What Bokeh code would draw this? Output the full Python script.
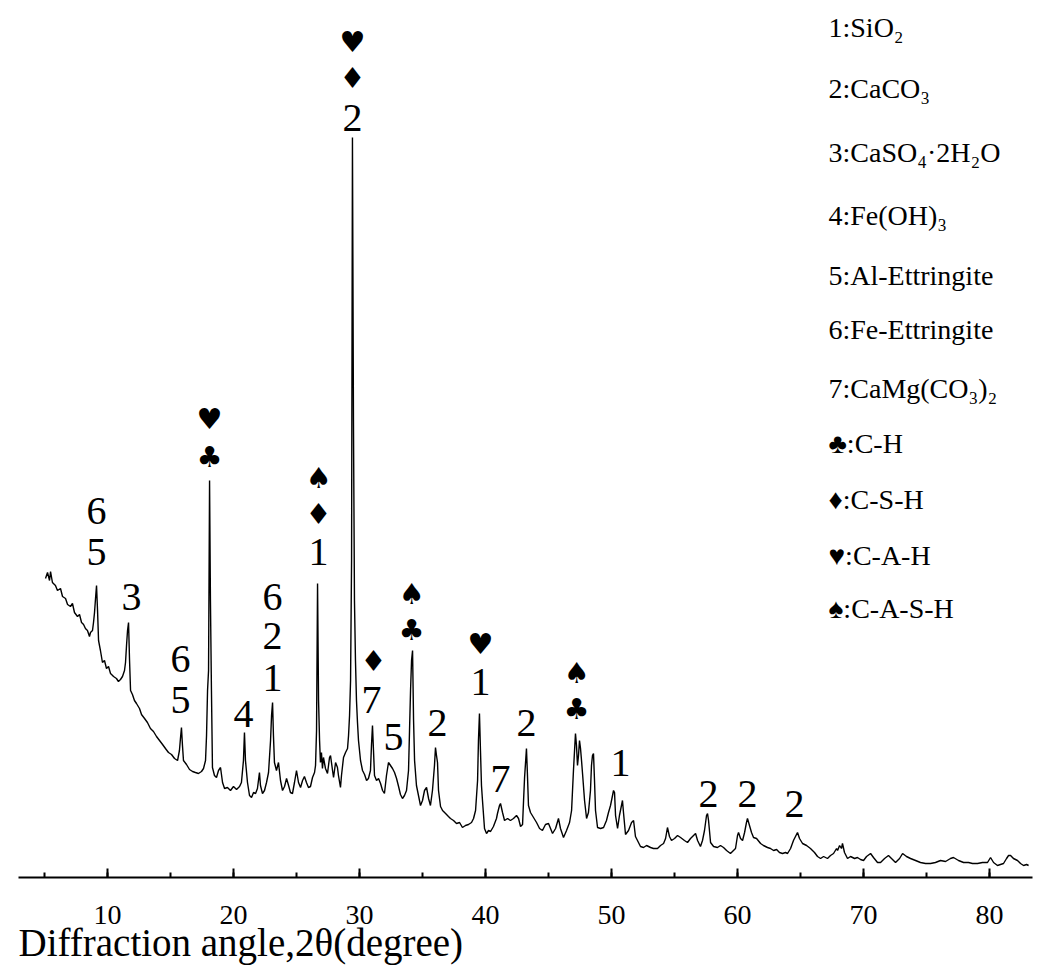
from bokeh.plotting import figure
from bokeh.models import Range1d, SingleIntervalTicker, Title
from bokeh.core.properties import value
from bokeh.embed import file_html
from bokeh.resources import INLINE

# ---- XRD pattern (2theta in degree, intensity in a.u.) ----
two_theta = [
    5.08, 5.24, 5.40, 5.48, 5.63, 5.87, 6.03, 6.27, 6.43, 6.67, 6.83, 7.06, 7.22, 7.38, 7.62, 7.78,
    7.94, 8.10, 8.25, 8.41, 8.57, 8.65, 8.81, 8.89, 8.97, 9.05, 9.13, 9.21, 9.29, 9.44, 9.60, 9.76,
    9.92, 10.08, 10.24, 10.48, 10.71, 10.87, 11.03, 11.19, 11.35, 11.43, 11.51, 11.59, 11.67, 11.75,
    11.83, 11.98, 12.14, 12.30, 12.54, 12.70, 12.94, 13.17, 13.41, 13.65, 13.89, 14.13, 14.37, 14.60,
    14.84, 15.08, 15.32, 15.56, 15.71, 15.79, 15.87, 15.95, 16.03, 16.27, 16.51, 16.75, 16.98, 17.22,
    17.46, 17.62, 17.78, 17.86, 17.94, 18.02, 18.10, 18.17, 18.25, 18.33, 18.49, 18.65, 18.81, 18.97,
    19.13, 19.29, 19.52, 19.76, 20.00, 20.24, 20.48, 20.63, 20.79, 20.87, 20.95, 21.11, 21.27, 21.43,
    21.59, 21.75, 21.90, 22.06, 22.14, 22.30, 22.46, 22.62, 22.78, 22.94, 23.02, 23.10, 23.17, 23.25,
    23.41, 23.57, 23.73, 23.89, 24.05, 24.21, 24.37, 24.52, 24.68, 24.84, 25.00, 25.16, 25.32, 25.48,
    25.63, 25.79, 25.95, 26.11, 26.27, 26.43, 26.51, 26.59, 26.67, 26.75, 26.83, 26.90, 26.98, 27.06,
    27.14, 27.30, 27.46, 27.62, 27.70, 27.86, 27.94, 28.10, 28.25, 28.33, 28.49, 28.57, 28.73, 28.89,
    29.05, 29.13, 29.21, 29.29, 29.37, 29.44, 29.52, 29.60, 29.68, 29.76, 29.84, 29.92, 30.08, 30.24,
    30.40, 30.56, 30.71, 30.87, 30.95, 31.03, 31.11, 31.19, 31.35, 31.51, 31.67, 31.83, 31.98, 32.14,
    32.30, 32.46, 32.62, 32.78, 32.94, 33.10, 33.25, 33.41, 33.57, 33.73, 33.89, 33.97, 34.05, 34.13,
    34.21, 34.29, 34.37, 34.52, 34.68, 34.84, 35.00, 35.16, 35.32, 35.48, 35.63, 35.79, 35.95, 36.03,
    36.11, 36.19, 36.27, 36.43, 36.59, 36.83, 37.06, 37.22, 37.46, 37.70, 37.94, 38.17, 38.41, 38.65,
    38.89, 39.05, 39.21, 39.37, 39.44, 39.52, 39.60, 39.68, 39.76, 39.92, 40.08, 40.24, 40.40, 40.63,
    40.87, 40.95, 41.11, 41.19, 41.35, 41.51, 41.75, 41.98, 42.22, 42.46, 42.62, 42.78, 42.94, 43.02,
    43.10, 43.25, 43.33, 43.41, 43.57, 43.81, 44.05, 44.29, 44.52, 44.76, 45.00, 45.16, 45.32, 45.56,
    45.79, 45.95, 46.19, 46.43, 46.67, 46.83, 46.98, 47.14, 47.22, 47.30, 47.38, 47.46, 47.54, 47.62,
    47.70, 47.86, 48.02, 48.17, 48.33, 48.41, 48.49, 48.57, 48.65, 48.73, 48.89, 49.13, 49.37, 49.60,
    49.76, 49.92, 50.08, 50.16, 50.24, 50.32, 50.48, 50.63, 50.79, 50.87, 50.95, 51.11, 51.35, 51.59,
    51.75, 51.90, 52.06, 52.30, 52.54, 52.78, 53.10, 53.33, 53.65, 53.89, 54.13, 54.29, 54.44, 54.60,
    54.76, 55.00, 55.24, 55.48, 55.79, 56.03, 56.27, 56.51, 56.67, 56.83, 57.06, 57.22, 57.38, 57.54,
    57.62, 57.70, 57.86, 58.10, 58.41, 58.65, 58.89, 59.13, 59.44, 59.68, 59.84, 60.00, 60.08, 60.24,
    60.40, 60.56, 60.71, 60.79, 60.95, 61.11, 61.27, 61.51, 61.83, 62.06, 62.38, 62.62, 62.86, 63.10,
    63.33, 63.57, 63.81, 63.97, 64.21, 64.44, 64.60, 64.76, 64.92, 65.16, 65.48, 65.79, 66.11, 66.35,
    66.59, 66.83, 67.14, 67.38, 67.62, 67.86, 67.94, 68.10, 68.25, 68.33, 68.49, 68.73, 68.97, 69.29,
    69.52, 69.76, 70.00, 70.24, 70.56, 70.79, 71.11, 71.35, 71.67, 71.98, 72.22, 72.54, 72.86, 73.10,
    73.41, 73.73, 74.13, 74.52, 74.92, 75.32, 75.71, 76.11, 76.51, 76.90, 77.14, 77.54, 77.94, 78.33,
    78.65, 79.05, 79.44, 79.84, 80.08, 80.32, 80.63, 80.87, 81.11, 81.35, 81.51, 81.67, 81.90, 82.22,
    82.46, 82.70, 82.94, 83.10,
]
intensity = [
    299, 305, 297, 306, 295, 292, 287, 289, 281, 279, 273, 271, 274, 265, 261, 263,
    255, 253, 249, 247, 241, 245, 247, 255, 265, 279, 292, 267, 237, 227, 215, 217,
    209, 211, 204, 201, 199, 196, 198, 201, 207, 215, 232, 247, 255, 217,
    187, 183, 177, 174, 169, 163, 159, 155, 149, 146, 141, 137, 133, 129,
    125, 123, 119, 117, 127, 139, 150, 132, 117, 113, 108, 106, 105, 104,
    106, 109, 117, 142, 187, 207, 397, 277, 187, 110, 102, 100, 107, 110,
    95, 89, 90, 87, 91, 88, 91, 95, 117, 145, 117, 95, 82, 80,
    85, 84, 89, 105, 92, 84, 87, 95, 105, 137, 162, 175, 142, 115,
    107, 115, 97, 87, 91, 99, 92, 85, 84, 95, 107, 95, 90, 97,
    101, 95, 90, 91, 100, 105, 112, 147, 294, 177, 137, 115, 125, 109,
    120, 109, 104, 120, 122, 107, 100, 115, 110, 102, 90, 102, 120, 125,
    129, 142, 162, 197, 317, 740, 457, 277, 217, 177, 155, 137, 117, 107,
    103, 97, 99, 107, 132, 152, 127, 102, 97, 99, 94, 87, 84, 102,
    115, 112, 109, 105, 99, 91, 83, 79, 82, 87, 107, 147, 187, 217,
    227, 157, 117, 92, 82, 72, 77, 87, 90, 79, 72, 87, 112, 130,
    122, 115, 87, 71, 67, 64, 61, 59, 57, 54, 55, 50, 52, 53,
    55, 59, 67, 97, 137, 164, 127, 92, 77, 49, 44, 47, 46, 51,
    59, 64, 72, 74, 65, 57, 59, 57, 59, 62, 59, 51, 53, 77,
    100, 129, 102, 72, 65, 60, 55, 49, 47, 53, 54, 49, 44, 49,
    59, 49, 40, 47, 55, 67, 107, 144, 132, 112, 122, 137, 129, 117,
    104, 77, 59, 65, 87, 112, 122, 124, 97, 67, 50, 49, 50, 57,
    65, 72, 82, 87, 85, 62, 49, 62, 72, 77, 65, 43, 47, 55,
    57, 41, 37, 31, 30, 32, 30, 29, 29, 32, 34, 39, 50, 41,
    37, 39, 42, 40, 37, 35, 39, 42, 44, 37, 31, 37, 47, 62,
    64, 57, 35, 31, 30, 32, 30, 27, 24, 27, 29, 42, 45, 39,
    37, 45, 55, 59, 52, 45, 40, 39, 34, 32, 30, 29, 27, 28,
    25, 24, 25, 24, 29, 37, 41, 45, 39, 34, 32, 29, 25, 21,
    19, 21, 19, 22, 24, 29, 27, 32, 29, 34, 25, 19, 21, 19,
    20, 18, 17, 21, 24, 20, 15, 15, 19, 22, 19, 15, 19, 24,
    21, 19, 17, 15, 14, 14, 15, 17, 16, 19, 20, 17, 15, 15,
    14, 14, 15, 15, 20, 15, 12, 13, 14, 19, 22, 22, 19, 17,
    14, 12, 13, 12,
]

# ---- peak markers: 2theta, intensity (centre of the mark), text ----
digit_x = [9.13, 9.13, 11.90, 15.79, 15.79, 20.79, 23.10, 23.10, 23.10, 26.75, 29.44, 30.95,
           32.70, 36.19, 39.60, 41.19, 43.25, 50.71, 57.70, 60.79, 64.52]
digit_y = [326, 367, 281, 178, 219, 164, 200, 242, 281, 326, 760, 178,
           141, 155, 196, 99, 155, 115, 84, 84, 74]
digit_text = ["5", "6", "3", "5", "6", "4", "1", "2", "6", "1", "2", "7",
              "5", "2", "1", "7", "2", "1", "2", "2", "2"]

suit_x = [18.10, 18.10, 26.75, 26.75, 29.44, 29.44, 31.11, 34.13, 34.13, 39.60, 47.22, 47.22]
suit_y = [421, 459, 364, 400, 800, 836, 217, 248, 284, 234, 169, 205]
suit_text = ["♣", "♥", "♦", "♠", "♦", "♥", "♦", "♣", "♠", "♥", "♣", "♠"]

# ---- phase key ----
key_text = ["1:SiO₂", "2:CaCO₃", "3:CaSO₄·2H₂O", "4:Fe(OH)₃", "5:Al-Ettringite",
            "6:Fe-Ettringite", "7:CaMg(CO₃)₂", "♣:C-H", "♦:C-S-H", "♥:C-A-H", "♠:C-A-S-H"]
key_y = [850, 789, 725, 662, 602, 548, 489, 434, 378, 322, 269]
key_x = [67.22] * len(key_text)

x_title = "Diffraction angle,2θ(degree)"

SERIF = value("Liberation Serif")

p = figure(width=1040, height=976, output_backend="svg", toolbar_location=None,
           x_range=Range1d(2.937, 83.41), y_range=Range1d(0, 877),
           y_axis_location=None, min_border_left=18, min_border_right=8,
           min_border_top=0, min_border_bottom=99,
           background_fill_color="white", border_fill_color="white")
p.outline_line_color = None
p.xgrid.grid_line_color = None
p.ygrid.grid_line_color = None

p.line(two_theta, intensity, line_color="black", line_width=1.4)

p.text(x=digit_x, y=digit_y, text=digit_text, text_font=SERIF, text_font_size="40px",
       text_align="center", text_baseline="middle", text_color="black")
p.text(x=suit_x, y=suit_y, text=suit_text, text_font=value("DejaVu Sans"), text_font_size="29px",
       text_align="center", text_baseline="middle", text_color="black")
p.text(x=key_x, y=key_y, text=key_text, text_font=SERIF, text_font_size="28px",
       text_align="left", text_baseline="middle", text_color="black")

ax = p.xaxis[0]
ax.ticker = SingleIntervalTicker(interval=10, num_minor_ticks=2)
ax.axis_line_width = 2
ax.axis_line_color = "black"
ax.major_tick_line_width = 2
ax.minor_tick_line_width = 2
ax.major_tick_in = 9
ax.major_tick_out = 0
ax.minor_tick_in = 5
ax.minor_tick_out = 0
ax.major_label_standoff = 28
ax.major_label_text_font = "Liberation Serif"
ax.major_label_text_font_size = "28px"
ax.major_label_text_color = "black"

p.add_layout(Title(text=x_title, align="left", text_font="Liberation Serif",
                   text_font_size="39px", text_font_style="normal",
                   text_color="black", standoff=-15, offset=0), "below")

open("out.html", "w").write(file_html(p, INLINE))
